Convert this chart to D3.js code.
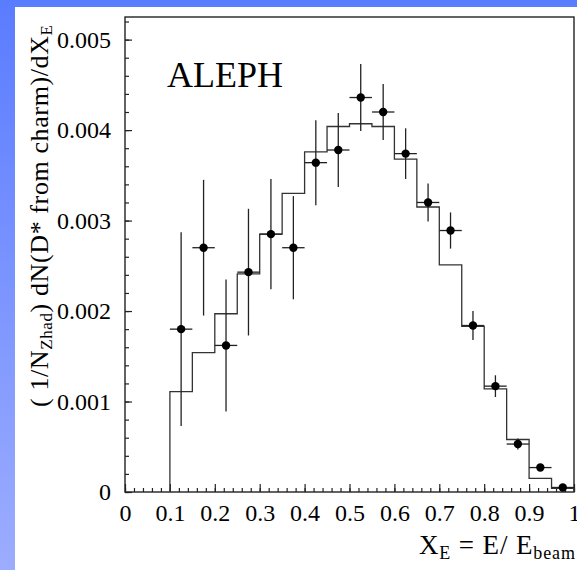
<!DOCTYPE html>
<html lang="en">
<head>
<meta charset="UTF-8"/>
<title>ALEPH D* x_E spectrum</title>
<script src="https://d3js.org/d3.v7.min.js"></script>
<style>
  body { margin: 0; padding: 0; background: #fff; }
</style>
</head>
<body>
<script>
// histogram (MC) - bin edges from 0.10 to 1.00 in steps of 0.05
var binEdges = [0.10, 0.15, 0.20, 0.25, 0.30, 0.35, 0.40, 0.45, 0.50, 0.55,
                0.60, 0.65, 0.70, 0.75, 0.80, 0.85, 0.90, 0.95, 1.00];
var mcValues = [0.00111, 0.00154, 0.00197, 0.00241, 0.00285, 0.00330, 0.00376, 0.00404, 0.00407,
                0.00404, 0.00368, 0.00315, 0.00251, 0.00183, 0.00114, 0.00058, 0.00015, 0.00004];

// data points with errors
var dataX   = [0.125, 0.175, 0.225, 0.275, 0.325, 0.375, 0.425, 0.475, 0.525,
               0.575, 0.625, 0.675, 0.725, 0.775, 0.825, 0.875, 0.925, 0.975];
var dataY   = [0.00180, 0.00270, 0.00162, 0.00243, 0.00285, 0.00270, 0.00364, 0.00378, 0.00436,
               0.00420, 0.00374, 0.00320, 0.00289, 0.00184, 0.00117, 0.00053, 0.00027, 0.00005];
var dataErr = [0.00107, 0.00075, 0.00073, 0.00070, 0.00061, 0.00057, 0.00047, 0.00041, 0.00037,
               0.00031, 0.00028, 0.00021, 0.00020, 0.00016, 0.00012, 0.00006, 0.00003, 0.00002];
var xHalfWidth = 0.025;

var xMajorTicks = [0, 0.1, 0.2, 0.3, 0.4, 0.5, 0.6, 0.7, 0.8, 0.9, 1];
var xTickLabels = ["0", "0.1", "0.2", "0.3", "0.4", "0.5", "0.6", "0.7", "0.8", "0.9", "1"];
var yMajorTicks = [0, 0.001, 0.002, 0.003, 0.004, 0.005];
var yTickLabels = ["0", "0.001", "0.002", "0.003", "0.004", "0.005"];

var w = 577, h = 570;
var serif = "'Liberation Serif', 'DejaVu Serif', 'Times New Roman', serif";

var svg = d3.select("body").append("svg")
    .attr("width", w)
    .attr("height", h);

// blue slide background
var grad = svg.append("defs").append("linearGradient")
    .attr("id", "bg").attr("x1", 0).attr("y1", 0).attr("x2", 0).attr("y2", 1);
grad.append("stop").attr("offset", "0%").attr("stop-color", "#5a7cff");
grad.append("stop").attr("offset", "100%").attr("stop-color", "#9cadff");
svg.append("rect").attr("width", w).attr("height", h).attr("fill", "url(#bg)");
svg.append("rect").attr("x", 15).attr("y", 7).attr("width", w - 15).attr("height", h - 7).attr("fill", "#fff");

// scales
var xScale = d3.scaleLinear().domain([0, 1]).range([125, 574]);
var yScale = d3.scaleLinear().domain([0, 0.00525]).range([492, 17]);

// axes - ticks point inwards
var xMinor = d3.axisBottom(xScale).tickValues(d3.range(0, 1.001, 0.02)).tickSize(-4).tickFormat("");
var xMajor = d3.axisBottom(xScale).tickValues(xMajorTicks).tickSize(-8).tickPadding(10)
    .tickFormat(function(d, i) { return xTickLabels[i]; });
var yMinor = d3.axisLeft(yScale).tickValues(d3.range(0, 0.00521, 0.0002)).tickSize(-4).tickFormat("");
var yMajor = d3.axisLeft(yScale).tickValues(yMajorTicks).tickSize(-7).tickPadding(14)
    .tickFormat(function(d, i) { return yTickLabels[i]; });

function styleAxis(g) {
    g.attr("font-family", null);
    g.select(".domain").remove();
    g.selectAll("line").attr("stroke", "#222").attr("stroke-width", 1.2);
    g.selectAll("text").style("font-family", serif).style("font-size", "24px").attr("fill", "#000");
}

svg.append("g").attr("transform", "translate(0," + yScale(0) + ")").call(xMinor).call(styleAxis);
svg.append("g").attr("transform", "translate(0," + yScale(0) + ")").call(xMajor).call(styleAxis)
    .selectAll("text").attr("dy", "0.8em");
svg.append("g").attr("transform", "translate(" + xScale(0) + ",0)").call(yMinor).call(styleAxis);
svg.append("g").attr("transform", "translate(" + xScale(0) + ",0)").call(yMajor).call(styleAxis);

// frame
svg.append("rect")
    .attr("x", xScale(0)).attr("y", yScale(0.00525))
    .attr("width", xScale(1) - xScale(0)).attr("height", yScale(0) - yScale(0.00525))
    .attr("fill", "none").attr("stroke", "#222").attr("stroke-width", 1.4);

// MC histogram as a step line
var histPts = [[binEdges[0], 0]];
mcValues.forEach(function(v, i) {
    histPts.push([binEdges[i], v]);
    histPts.push([binEdges[i + 1], v]);
});
histPts.push([binEdges[binEdges.length - 1], 0]);

var line = d3.line()
    .x(function(d) { return xScale(d[0]); })
    .y(function(d) { return yScale(d[1]); });

svg.append("path")
    .datum(histPts)
    .attr("d", line)
    .attr("fill", "none")
    .attr("stroke", "#333")
    .attr("stroke-width", 1.3);

// data points with error bars
var pts = dataX.map(function(x, i) { return { x: x, y: dataY[i], e: dataErr[i] }; });

var errs = svg.append("g").attr("stroke", "#222").attr("stroke-width", 1.3);
errs.selectAll(".ex").data(pts).enter().append("line")
    .attr("x1", function(d) { return xScale(d.x - xHalfWidth); })
    .attr("x2", function(d) { return xScale(d.x + xHalfWidth); })
    .attr("y1", function(d) { return yScale(d.y); })
    .attr("y2", function(d) { return yScale(d.y); });
errs.selectAll(".ey").data(pts).enter().append("line")
    .attr("x1", function(d) { return xScale(d.x); })
    .attr("x2", function(d) { return xScale(d.x); })
    .attr("y1", function(d) { return yScale(d.y - d.e); })
    .attr("y2", function(d) { return yScale(d.y + d.e); });

svg.selectAll("circle").data(pts).enter().append("circle")
    .attr("cx", function(d) { return xScale(d.x); })
    .attr("cy", function(d) { return yScale(d.y); })
    .attr("r", 4.2)
    .attr("fill", "#000");

// ALEPH label
svg.append("text")
    .attr("x", 167).attr("y", 87)
    .style("font-family", serif)
    .style("font-size", "36px")
    .text("ALEPH");

// x axis title
var xt = svg.append("text")
    .attr("x", 575).attr("y", 554)
    .attr("text-anchor", "end")
    .attr("textLength", 156)
    .attr("lengthAdjust", "spacing")
    .style("font-family", serif)
    .style("font-size", "27px");
xt.append("tspan").text("X");
xt.append("tspan").attr("baseline-shift", "-25%").style("font-size", "18px").text("E");
xt.append("tspan").text(" = E/ E");
xt.append("tspan").attr("baseline-shift", "-25%").style("font-size", "18px").text("beam");

// y axis title
var yt = svg.append("text")
    .attr("transform", "translate(48,216) rotate(-90)")
    .attr("text-anchor", "middle")
    .attr("textLength", 382)
    .attr("lengthAdjust", "spacing")
    .style("font-family", serif)
    .style("font-size", "26px");
yt.append("tspan").text("( 1/N");
yt.append("tspan").attr("baseline-shift", "-25%").style("font-size", "17px").text("Zhad");
yt.append("tspan").text(") dN(D* from charm)/dX");
yt.append("tspan").attr("baseline-shift", "-25%").style("font-size", "17px").text("E");
</script>
</body>
</html>
